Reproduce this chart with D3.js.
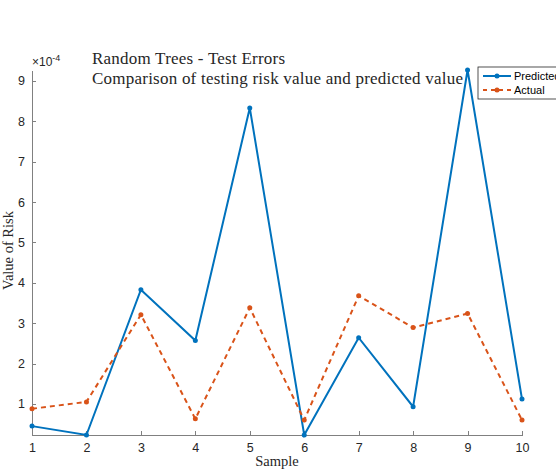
<!DOCTYPE html>
<meta charset="utf-8">
<style>
    body { margin: 0; background: #fff; }
    .axis text { font: 12.5px "Liberation Sans", Arial, sans-serif; fill: #262626; }
    .axis path, .axis line { fill: none; stroke: #808080; shape-rendering: crispEdges; }
    .serif { font-family: "Liberation Serif", "DejaVu Serif", serif; fill: #262626; }
</style>
<svg class="chart"></svg>
<script src="https://d3js.org/d3.v7.min.js"></script>
<script>

    // data (units of 1e-4)
    var samples = [1, 2, 3, 4, 5, 6, 7, 8, 9, 10];
    var predicted = [0.45, 0.23, 3.83, 2.57, 8.33, 0.23, 2.64, 0.93, 9.27, 1.12];
    var actual = [0.88, 1.05, 3.21, 0.63, 3.38, 0.60, 3.68, 2.89, 3.24, 0.60];
    var yTicks = [1, 2, 3, 4, 5, 6, 7, 8, 9];
    var seriesNames = ["Predicted", "Actual"];

    var width = 556, height = 469;
    var margin = {top: 70, right: 34, bottom: 34, left: 32};

    var svg = d3.select(".chart")
        .attr("width", width)
        .attr("height", height);

    var x = d3.scaleLinear()
        .domain([1, 10])
        .range([margin.left, width - margin.right]);

    var yMin = d3.min(predicted.concat(actual)),
        yMax = d3.max(predicted.concat(actual));
    var y = d3.scaleLinear()
        .domain([yMin, yMax])
        .range([height - margin.bottom, margin.top]);

    // axes, ticks pointing inward like matlab
    var xAxis = d3.axisBottom(x).tickValues(samples).tickSizeInner(-4).tickSizeOuter(0).tickPadding(8);
    var yAxis = d3.axisLeft(y).tickValues(yTicks).tickSizeInner(-4).tickSizeOuter(0).tickPadding(7);

    svg.append("g")
        .attr("class", "x axis")
        .attr("transform", "translate(0," + (height - margin.bottom) + ")")
        .call(xAxis);

    svg.append("g")
        .attr("class", "y axis")
        .attr("transform", "translate(" + margin.left + ",0)")
        .call(yAxis);

    // exponent label
    var expo = svg.append("text")
        .attr("x", margin.left)
        .attr("y", 66)
        .style("font", "12px 'Liberation Sans', Arial, sans-serif")
        .style("fill", "#262626");
    expo.append("tspan").text("\u00d710");
    expo.append("tspan").attr("dy", -5).style("font-size", "9px").text("-4");

    var series = [
        {name: seriesNames[0], values: predicted, color: "#0072BD", dash: null},
        {name: seriesNames[1], values: actual, color: "#D95319", dash: "5,4"}
    ];

    var line = d3.line()
        .x(function (d, i) { return x(samples[i]); })
        .y(function (d) { return y(d); });

    series.forEach(function (s) {
        svg.append("path")
            .datum(s.values)
            .attr("fill", "none")
            .attr("stroke", s.color)
            .attr("stroke-width", 2)
            .attr("stroke-dasharray", s.dash)
            .attr("d", line);

        svg.selectAll(null)
            .data(s.values)
            .enter().append("circle")
            .attr("cx", function (d, i) { return x(samples[i]); })
            .attr("cy", function (d) { return y(d); })
            .attr("r", 2.5)
            .attr("fill", s.color);
    });

    // titles
    svg.append("text")
        .attr("class", "serif")
        .attr("x", 92).attr("y", 64)
        .style("font-size", "17px")
        .attr("textLength", 193)
        .text("Random Trees - Test Errors");
    svg.append("text")
        .attr("class", "serif")
        .attr("x", 92).attr("y", 84)
        .style("font-size", "17px")
        .attr("textLength", 371)
        .text("Comparison of testing risk value and predicted value");

    svg.append("text")
        .attr("class", "serif")
        .attr("x", (margin.left + width - margin.right) / 2)
        .attr("y", 466)
        .attr("text-anchor", "middle")
        .style("font-size", "14.5px")
        .text("Sample");

    svg.append("text")
        .attr("class", "serif")
        .attr("transform", "translate(13," + ((margin.top + height - margin.bottom) / 2 - 2) + ") rotate(-90)")
        .attr("text-anchor", "middle")
        .style("font-size", "14.5px")
        .text("Value of Risk");

    // legend (clipped by the right edge, as in the original)
    var legend = svg.append("g").attr("transform", "translate(478,67)");
    legend.append("rect")
        .attr("width", 100).attr("height", 32)
        .attr("fill", "#fff").attr("stroke", "#262626").attr("stroke-width", 0.8);
    series.forEach(function (s, i) {
        var ly = 9 + i * 14;
        legend.append("line")
            .attr("x1", 5).attr("x2", 33).attr("y1", ly).attr("y2", ly)
            .attr("stroke", s.color).attr("stroke-width", 2)
            .attr("stroke-dasharray", s.dash ? "4,4" : null);
        legend.append("circle")
            .attr("cx", 19).attr("cy", ly).attr("r", 2.5).attr("fill", s.color);
        legend.append("text")
            .attr("x", 36).attr("y", ly + 4)
            .style("font", "11px 'Liberation Sans', Arial, sans-serif")
            .style("fill", "#000")
            .text(s.name);
    });

</script>
